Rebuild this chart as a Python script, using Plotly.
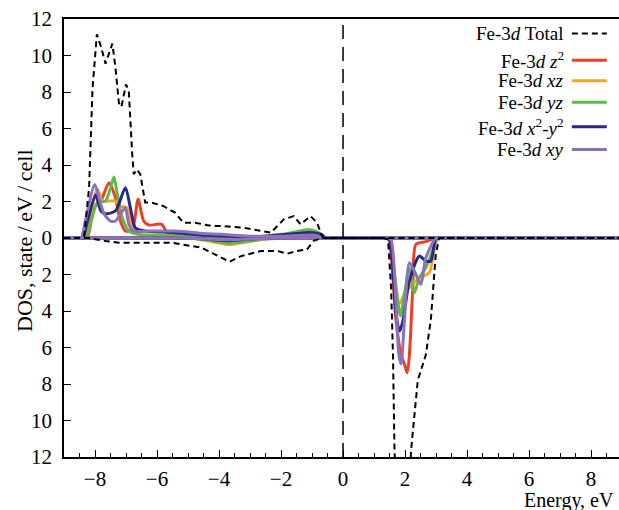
import plotly.graph_objects as go

# ---------------- data ----------------
# Fe-3d total, spin up
E_tot_up = [-9, -8.45, -8.35, -8.19, -8.08, -7.94, -7.81, -7.66, -7.44, -7.34, -7.23, -7.15, -7.0, -6.91,
            -6.8, -6.75, -6.65, -6.54, -6.38, -6.17, -5.79, -5.42, -5.15, -4.78, -4.25, -3.93, -3.19, -2.33,
            -1.91, -1.59, -1.37, -1.05, -0.84, -0.68, -0.6, 8.9]
D_tot_up = [0, 0, 0.1, 2.76, 8.2, 11.16, 10.5, 9.55, 10.65, 9.33, 7.4, 7.18, 8.42, 8.05,
            4.6, 3.5, 3.76, 3.5, 1.94, 1.94, 1.75, 1.39, 0.84, 0.84, 0.66, 0.66, 0.56, 0.29,
            1.02, 1.2, 0.75, 1.2, 0.84, 0.1, 0, 0]
# Fe-3d total, spin down
E_tot_dn = [-9, -8.2, -7.66, -7.23, -6.48, -5.53, -4.57, -3.93, -3.66, -3.29, -2.65, -2.12, -1.8, -1.48,
            -1.16, -0.95, -0.68, 1.3, 1.45, 1.55, 1.61, 1.66, 1.72, 1.95, 2.15, 2.19, 2.41, 2.67, 2.83,
            2.99, 3.1, 8.9]
D_tot_dn = [0, 0, -0.16, -0.26, -0.26, -0.26, -0.53, -1.08, -1.3, -0.99, -0.71, -0.71, -0.86, -0.71,
            -0.62, -0.16, 0, 0, -0.07, -2.7, -6.4, -11.7, -14, -16, -14, -11.7, -7.8, -6.4, -4.5,
            -0.9, 0, 0]

# z^2
E_z2_up = [-9, -8.6, -8.35, -8.24, -8.03, -7.81, -7.55, -7.34, -7.18, -7.02, -6.8, -6.61, -6.43, -6.27,
           -5.85, -5.63, -5.0, -4.0, -3.0, -2.0, -1.3, -0.9, -0.6, -0.4, 0.0, 1.0, 2.5, 4.5, 6.5, 8.9]
D_z2_up = [0, 0, 0, 0.05, 1.66, 2.03, 3.03, 2.2, 0.93, 0.38, 0.47, 2.12, 0.93, 0.71,
           0.75, 0.2, 0.12, 0.05, 0.05, 0.1, 0.2, 0.15, 0, 0, 0, 0, 0, 0, 0, 0]
E_z2_dn = [-9, -7.0, -5.5, -4.5, -3.7, -3.0, -2.0, -0.6, 0.5, 1.2, 1.4, 1.48, 1.71, 1.87, 1.98, 2.07,
           2.14, 2.25, 2.35, 2.67, 2.99, 3.2, 4.0, 6.0, 8.9]
D_z2_dn = [0, 0, 0, -0.05, -0.15, -0.05, 0, 0, 0, 0, 0, -0.1, -4.55, -6.4, -6.9, -7.38,
           -6.4, -2.7, -0.35, -0.2, 0, 0, 0, 0, 0]

# xz
E_xz_up = [-9, -8.6, -8.35, -8.19, -7.92, -7.76, -7.34, -7.18, -6.97, -6.8, -6.6, -6.0, -5.0, -4.0,
           -3.0, -2.0, -1.5, -1.1, -0.8, -0.6, -0.4, 0.0, 1.0, 2.5, 4.5, 6.5, 8.9]
D_xz_up = [0, 0, 0, 0.93, 2.67, 2.03, 2.03, 1.75, 1.66, 0.56, 0.2, 0.15, 0.1, 0.05,
           0.05, 0.15, 0.3, 0.45, 0.3, 0, 0, 0, 0, 0, 0, 0, 0]
E_xz_dn = [-9, -7.0, -5.0, -4.2, -3.7, -3.2, -2.5, -1.5, -0.6, 0.5, 1.2, 1.4, 1.5, 1.65, 1.82, 2.0,
           2.2, 2.46, 2.78, 2.95, 3.05, 3.3, 4.0, 6.0, 8.9]
D_xz_dn = [0, 0, 0, -0.2, -0.36, -0.25, -0.05, 0, 0, 0, 0, 0, -0.1, -2.0, -3.6, -3.0,
           -2.6, -2.2, -1.9, -0.5, 0, 0, 0, 0, 0]

# yz
E_yz_up = [-9, -8.6, -8.3, -8.13, -7.92, -7.66, -7.5, -7.39, -7.28, -7.12, -6.91, -6.6, -6.0, -5.0,
           -4.0, -3.0, -2.0, -1.5, -1.1, -0.8, -0.6, -0.4, 0.0, 1.0, 2.5, 4.5, 6.5, 8.9]
D_yz_up = [0, 0, 0, 0.9, 1.94, 2.03, 2.76, 3.34, 2.39, 1.11, 0.38, 0.2, 0.15, 0.1,
           0.05, 0.05, 0.2, 0.35, 0.45, 0.3, 0, 0, 0, 0, 0, 0, 0, 0]
E_yz_dn = [-9, -7.0, -5.0, -4.2, -3.7, -3.2, -2.5, -1.5, -0.6, 0.5, 1.2, 1.4, 1.5, 1.71, 1.85, 1.98,
           2.14, 2.3, 2.46, 2.67, 2.95, 3.05, 3.3, 4.0, 6.0, 8.9]
D_yz_dn = [0, 0, 0, -0.15, -0.3, -0.2, -0.05, 0, 0, 0, 0, 0, -0.1, -2.7, -4.27, -3.09,
           -1.63, -3.0, -2.17, -1.63, -0.4, 0, 0, 0, 0, 0]

# x^2-y^2
E_x2y2_up = [-9, -8.6, -8.4, -8.24, -7.98, -7.81, -7.66, -7.34, -7.02, -6.86, -6.7, -6.4, -5.5, -4.5,
             -3.5, -2.5, -1.5, -1.1, -0.7, -0.55, -0.4, 0.0, 1.0, 2.5, 4.5, 6.5, 8.9]
D_x2y2_up = [0, 0, 0, 0.93, 2.35, 1.48, 1.33, 1.48, 2.76, 1.66, 0.56, 0.38, 0.3, 0.15,
             0.08, 0.1, 0.25, 0.3, 0.2, 0, 0, 0, 0, 0, 0, 0, 0]
E_x2y2_dn = [-9, -7.0, -5.5, -4.5, -3.7, -3.0, -2.0, -0.6, 0.5, 1.2, 1.4, 1.5, 1.71, 1.82, 1.93, 2.14,
             2.46, 2.67, 2.83, 3.0, 3.2, 4.0, 6.0, 8.9]
D_x2y2_dn = [0, 0, 0, -0.05, -0.15, -0.05, 0, 0, 0, 0, 0, -0.1, -4.18, -5.1, -4.55, -2.36,
             -0.99, -1.26, -1.26, 0, 0, 0, 0, 0]

# xy
E_xy_up = [-9, -8.6, -8.45, -8.29, -8.01, -7.87, -7.71, -7.5, -7.34, -7.18, -7.02, -6.91, -6.75, -6.2,
           -5.42, -4.5, -3.93, -3.0, -2.0, -1.3, -0.9, -0.6, -0.4, 0.0, 1.0, 2.5, 4.5, 6.5, 8.9]
D_xy_up = [0, 0, 0, 1.11, 2.93, 2.2, 1.33, 0.93, 0.93, 1.3, 1.66, 0.75, 0.38, 0.38,
           0.38, 0.25, 0.2, 0.1, 0.1, 0.15, 0.15, 0, 0, 0, 0, 0, 0, 0, 0]
E_xy_dn = [-9, -7.0, -5.5, -4.5, -3.7, -3.0, -2.0, -0.6, 0.5, 1.2, 1.45, 1.55, 1.71, 1.8, 1.87, 1.98,
           2.14, 2.35, 2.51, 2.67, 3.0, 3.2, 4.0, 6.0, 8.9]
D_xy_dn = [0, 0, 0, -0.05, -0.1, -0.05, 0, 0, 0, 0, 0, -0.1, -3.6, -6.4, -6.9, -4.55,
           -1.35, -2.0, -2.55, -1.08, 0, 0, 0, 0, 0]

series_names = ["Fe-3<i>d</i> Total", "Fe-3<i>d</i> <i>z</i><sup>2</sup>", "Fe-3<i>d</i> <i>xz</i>",
                "Fe-3<i>d</i> <i>yz</i>", "Fe-3<i>d</i> <i>x</i><sup>2</sup>-<i>y</i><sup>2</sup>",
                "Fe-3<i>d</i> <i>xy</i>"]
series_colors = ["#000000", "#ec3f27", "#f9a323", "#5fbb45", "#2d2689", "#8d71bd"]

y_tickvals = [-12, -10, -8, -6, -4, -2, 0, 2, 4, 6, 8, 10, 12]
y_ticktext = ["12", "10", "8", "6", "4", "2", "0", "2", "4", "6", "8", "10", "12"]
x_tickvals = [-8, -6, -4, -2, 0, 2, 4, 6, 8]

orbitals = [
    (E_z2_up, D_z2_up, E_z2_dn, D_z2_dn),
    (E_xz_up, D_xz_up, E_xz_dn, D_xz_dn),
    (E_yz_up, D_yz_up, E_yz_dn, D_yz_dn),
    (E_x2y2_up, D_x2y2_up, E_x2y2_dn, D_x2y2_dn),
    (E_xy_up, D_xy_up, E_xy_dn, D_xy_dn),
]

FONT = "Liberation Serif"
TICKFONT = dict(family=FONT, size=21, color="black")
fig = go.Figure()

for i, (eu, du, ed, dd) in enumerate(orbitals):
    col = series_colors[i + 1]
    for ex, dx in ((eu, du), (ed, dd)):
        fig.add_trace(go.Scatter(x=ex, y=dx, mode="lines", name=series_names[i + 1],
                                 line=dict(color=col, width=3, shape="spline", smoothing=0.7),
                                 showlegend=False, hoverinfo="skip"))

for ex, dx in ((E_tot_up, D_tot_up), (E_tot_dn, D_tot_dn)):
    fig.add_trace(go.Scatter(x=ex, y=dx, mode="lines", name=series_names[0],
                             line=dict(color="black", width=2, dash="6px,4px"),
                             showlegend=False, hoverinfo="skip"))

# vertical dashed line at Fermi level
fig.add_shape(type="line", xref="x", yref="paper", x0=0, x1=0, y0=0, y1=1,
              line=dict(color="black", width=1.5, dash="14px,8px"))

# custom legend (text right, line sample on the right)
leg_y = [0.967, 0.906, 0.859, 0.810, 0.754, 0.702]
for i, name in enumerate(series_names):
    fig.add_annotation(xref="paper", yref="paper", x=0.905, y=leg_y[i], text=name,
                       showarrow=False, xanchor="right", yanchor="middle",
                       font=dict(family=FONT, size=19, color="black"))
    fig.add_shape(type="line", xref="paper", yref="paper", x0=0.915, x1=0.978,
                  y0=leg_y[i], y1=leg_y[i],
                  line=dict(color=series_colors[i], width=2 if i == 0 else 3,
                            dash="6px,4px" if i == 0 else "solid"))

fig.add_annotation(xref="paper", yref="paper", x=(24 - 64) / 555, y=(457 - 241) / 438,
                   text="DOS, state\u2009/\u2009eV\u2009/\u2009cell", textangle=-90,
                   showarrow=False, xanchor="center", yanchor="middle",
                   font=dict(family=FONT, size=22, color="black"))
fig.add_annotation(xref="paper", yref="paper", x=(616 - 64) / 555, y=(457 - 500) / 438,
                   text="Energy, eV", showarrow=False, xanchor="right", yanchor="middle",
                   font=dict(family=FONT, size=20, color="black"))

fig.update_layout(
    width=619, height=510,
    margin=dict(l=64, r=0, t=19, b=53),
    paper_bgcolor="white", plot_bgcolor="white",
    font=dict(family=FONT, size=21, color="black"),
    showlegend=False,
    xaxis=dict(range=[-9, 8.9], tickvals=x_tickvals, ticks="inside", ticklen=7, tickwidth=1,
               tickcolor="black", showline=True, linecolor="black", linewidth=1.5, mirror=True,
               showgrid=False, zeroline=False, ticklabelstandoff=2, tickfont=TICKFONT,
               minor=dict(dtick=0.5, tick0=0, ticks="inside", ticklen=4, tickcolor="black")),
    xaxis2=dict(overlaying="x", anchor="free", position=0.5, matches="x", range=[-9, 8.9],
                showticklabels=False, ticks="outside", ticklen=4, dtick=0.5, tick0=0,
                tickcolor="black", showline=True, linecolor="#352c3c", linewidth=2.5,
                showgrid=False, zeroline=False, layer="above traces"),
    yaxis=dict(range=[-12, 12], tickvals=y_tickvals, ticktext=y_ticktext, ticks="inside", ticklen=7,
               tickcolor="black", showline=True, linecolor="black", linewidth=1.5, mirror=False,
               showgrid=False, zeroline=False, ticklabelstandoff=6, tickfont=TICKFONT),
)

fig.write_html("out.html", config={"displayModeBar": False},
               post_script="document.body.style.margin='0';")
